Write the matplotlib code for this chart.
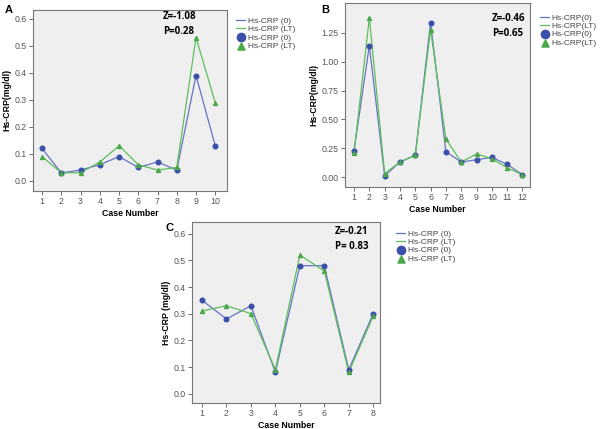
import numpy as np
import matplotlib.pyplot as plt

plt.rcParams['font.family'] = ['Liberation Sans', 'DejaVu Sans']

# Dados
cases_a = [1, 2, 3, 4, 5, 6, 7, 8, 9, 10]
crp0_a = [0.12, 0.03, 0.04, 0.06, 0.09, 0.05, 0.07, 0.04, 0.39, 0.13]
crplt_a = [0.09, 0.03, 0.03, 0.07, 0.13, 0.06, 0.04, 0.05, 0.53, 0.29]

cases_b = [1, 2, 3, 4, 5, 6, 7, 8, 9, 10, 11, 12]
crp0_b = [0.23, 1.14, 0.01, 0.13, 0.19, 1.34, 0.22, 0.13, 0.15, 0.17, 0.11, 0.02]
crplt_b = [0.21, 1.38, 0.03, 0.13, 0.19, 1.28, 0.33, 0.13, 0.20, 0.16, 0.08, 0.02]

cases_c = [1, 2, 3, 4, 5, 6, 7, 8]
crp0_c = [0.35, 0.28, 0.33, 0.08, 0.48, 0.48, 0.09, 0.30]
crplt_c = [0.31, 0.33, 0.30, 0.09, 0.52, 0.46, 0.08, 0.29]

COR_AZUL_LINHA = '#6673c4'
COR_AZUL = '#3b4fa8'
COR_VERDE_LINHA = '#5cbf5c'
COR_VERDE = '#4aa84a'


#------------------------------------------------------------------------------
def painel(fig, rect, x, y0, ylt, xlim, ylim, yticks, yfmt, ylabel, leg0, leglt,
           legpos, letra, letrapos, zp, zppos):
    ax = fig.add_axes(rect)
    ax.set_facecolor('#efefef')
    l0, = ax.plot(x, y0, color=COR_AZUL_LINHA, lw=0.9)
    llt, = ax.plot(x, ylt, color=COR_VERDE_LINHA, lw=0.9)
    m0 = ax.scatter(x, y0, s=11, marker='o', color=COR_AZUL, zorder=3)
    mlt = ax.scatter(x, ylt, s=8, marker='^', color=COR_VERDE, zorder=3)
    ax.set_xlim(*xlim)
    ax.set_ylim(*ylim)
    ax.set_xticks(x)
    ax.set_yticks(yticks)
    ax.set_yticklabels([yfmt % v for v in yticks])
    ax.tick_params(labelsize=6.3, colors='#555555', length=3, width=0.6,
                   pad=1.5)
    for s in ax.spines.values():
        s.set_color('#777777')
        s.set_linewidth(0.8)
    ax.set_xlabel('Case Number', fontsize=6.3, fontweight='bold', labelpad=2)
    ax.set_ylabel(ylabel, fontsize=6.3, fontweight='bold', labelpad=2)
    fig.legend([l0, llt, m0, mlt], [leg0, leglt, leg0, leglt],
               loc='upper left', bbox_to_anchor=legpos, frameon=False,
               fontsize=6.0, handlelength=1.1, handletextpad=0.3,
               labelspacing=0.05, borderpad=0, markerscale=1.8,
               labelcolor='#444444')
    fig.text(letrapos[0], letrapos[1], letra, fontsize=8, fontweight='bold',
             va='top')
    fig.text(zppos[0], zppos[1], zp, fontsize=7, fontweight='bold',
             va='top', linespacing=1.5, family=['Open Sans', 'DejaVu Sans'])
    return ax


#------------------------------------------------------------------------------
if __name__ == '__main__':

    fig = plt.figure(figsize=(6, 4.29), dpi=100)

    painel(fig, [0.055, 0.555, 0.323, 0.422], cases_a, crp0_a, crplt_a,
           (0.53, 10.6), (-0.037, 0.633), [0.0, 0.1, 0.2, 0.3, 0.4, 0.5, 0.6],
           '%.1f', 'Hs-CRP(mg/dl)', 'Hs-CRP (0)', 'Hs-CRP (LT)',
           (232 / 600, 1 - 13 / 429), 'A', (5 / 600, 1 - 5 / 429),
           'Z=-1.08\nP=0.28', (163 / 600, 1 - 11 / 429))

    painel(fig, [0.575, 0.564, 0.308, 0.429], cases_b, crp0_b, crplt_b,
           (0.41, 12.48), (-0.087, 1.51), [0.0, 0.25, 0.5, 0.75, 1.0, 1.25],
           '%.2f', 'Hs-CRP(mg/dl)', 'Hs-CRP(0)', 'Hs-CRP(LT)',
           (536 / 600, 1 - 10 / 429), 'B', (321 / 600, 1 - 5 / 429),
           'Z=-0.46\nP=0.65', (492 / 600, 1 - 13 / 429))

    painel(fig, [0.32, 0.0606, 0.313, 0.422], cases_c, crp0_c, crplt_c,
           (0.59, 8.27), (-0.035, 0.644), [0.0, 0.1, 0.2, 0.3, 0.4, 0.5, 0.6],
           '%.1f', 'Hs-CRP (mg/dl)', 'Hs-CRP (0)', 'Hs-CRP (LT)',
           (392 / 600, 1 - 226 / 429), 'C', (165 / 600, 1 - 223 / 429),
           'Z=-0.21\nP= 0.83', (335 / 600, 1 - 226 / 429))

    fig.savefig('out.png', dpi=100, facecolor='white')
